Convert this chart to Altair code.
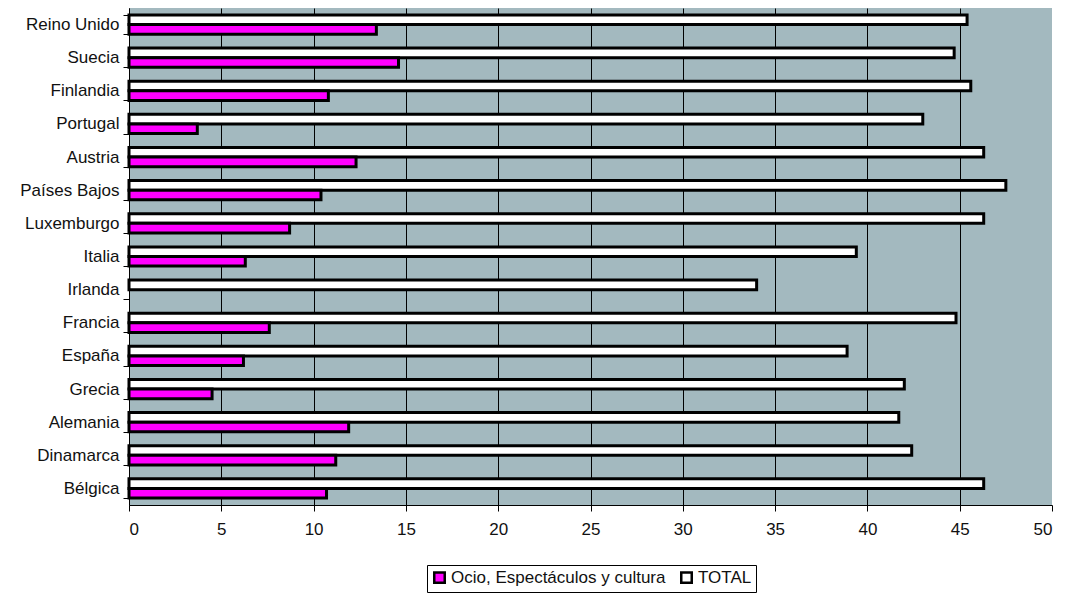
import altair as alt
import pandas as pd

countries = ["Reino Unido", "Suecia", "Finlandia", "Portugal", "Austria", "Países Bajos",
             "Luxemburgo", "Italia", "Irlanda", "Francia", "España", "Grecia",
             "Alemania", "Dinamarca", "Bélgica"]
total = [45.4, 44.7, 45.6, 43.0, 46.3, 47.5, 46.3, 39.4, 34.0, 44.8, 38.9, 42.0, 41.7, 42.4, 46.3]
ocio = [13.4, 14.6, 10.8, 3.7, 12.3, 10.4, 8.7, 6.3, None, 7.6, 6.2, 4.5, 11.9, 11.2, 10.7]
series = ["Ocio, Espectáculos y cultura", "TOTAL"]
x_ticks = [0, 5, 10, 15, 20, 25, 30, 35, 40, 45, 50]

rows = []
for c, t, o in zip(countries, total, ocio):
    rows.append({"pais": c, "serie": series[1], "valor": t})
    if o is not None:
        rows.append({"pais": c, "serie": series[0], "valor": o})
df = pd.DataFrame(rows)

FONT = "Liberation Sans"
FS = 17

chart = alt.Chart(df).mark_bar(stroke="black", strokeWidth=3).encode(
    x=alt.X("valor:Q",
            scale=alt.Scale(domain=[0, 50], nice=False),
            axis=alt.Axis(values=x_ticks, title=None, grid=True,
                          gridColor=alt.condition("datum.value >= 50", alt.value("transparent"), alt.value("black")),
                          gridWidth=1, domainColor="black", tickColor="black", tickSize=6,
                          labelPadding=10, labelFontSize=FS, labelColor="#111111", labelFont=FONT)),
    y=alt.Y("pais:N", sort=countries,
            scale=alt.Scale(paddingInner=0.42, paddingOuter=0.21),
            axis=alt.Axis(title=None, tickBand="extent", domainColor="black", tickColor="black",
                          tickSize=6, labelPadding=4, labelFontSize=FS, labelColor="#111111",
                          labelFont=FONT, labelLimit=0, grid=False)),
    yOffset=alt.YOffset("serie:N", sort=[series[1], series[0]],
                        scale=alt.Scale(paddingInner=0, paddingOuter=0)),
    color=alt.Color("serie:N",
                    scale=alt.Scale(domain=series, range=["#FF00FF", "#FFFFFF"]),
                    legend=alt.Legend(title=None, orient="none", direction="horizontal",
                                      legendX=298, legendY=557,
                                      strokeColor="black", fillColor="white", padding=4,
                                      symbolType="square", symbolSize=110,
                                      symbolStrokeColor="black", symbolStrokeWidth=2.5,
                                      symbolOpacity=1, labelFontSize=FS, labelFont=FONT,
                                      labelLimit=0,
                                      labelColor="#111111", labelOffset=3, columnPadding=10)),
).properties(
    width=923, height=497,
    autosize=alt.AutoSizeParams(type="none"),
    padding={"left": 121, "top": 0, "right": 6, "bottom": 90},
).configure(background="white").configure_view(fill="#A3B9BF", strokeWidth=0)

chart.save("out.html", embed_options={"renderer": "svg", "actions": False})
